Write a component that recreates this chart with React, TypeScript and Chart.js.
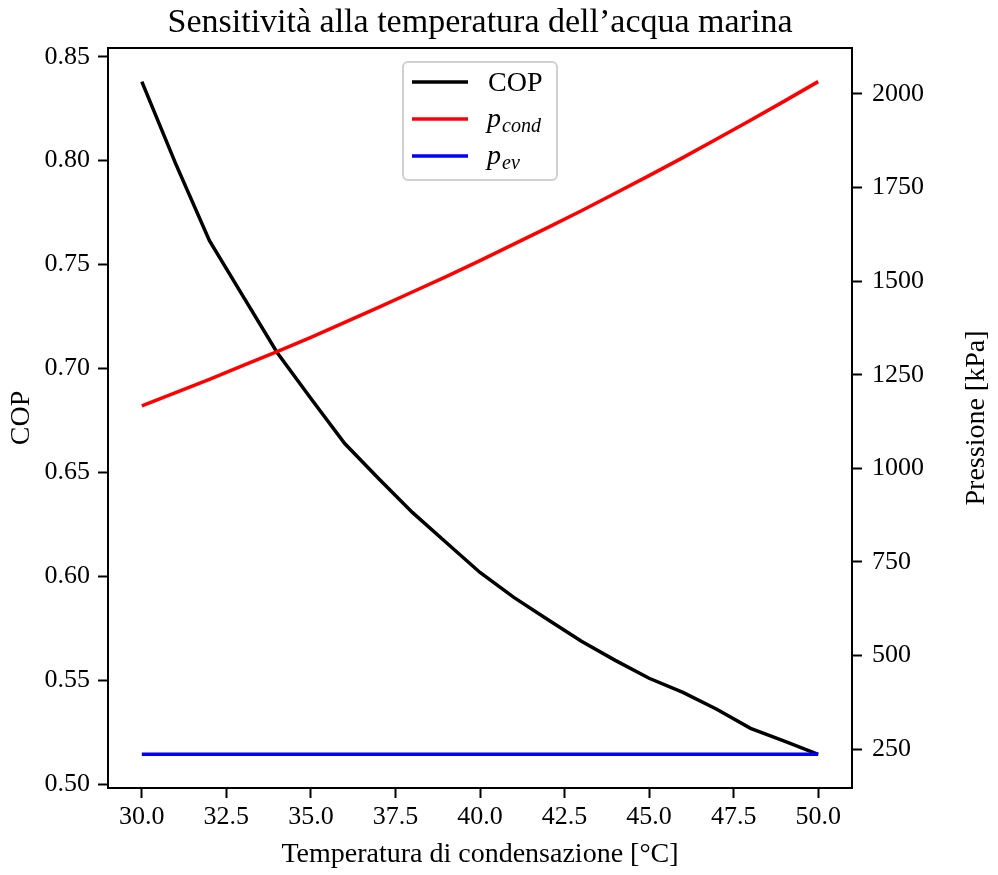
import React, { useEffect, useRef } from "react";
import { Chart, registerables } from "chart.js";

Chart.register(...registerables);

// ---- data ----
const temperatures = [30, 31, 32, 33, 34, 35, 36, 37, 38, 39, 40, 41, 42, 43, 44, 45, 46, 47, 48, 49, 50];
const copValues = [0.838, 0.7986, 0.7615, 0.7346, 0.7077, 0.6856, 0.6639, 0.6471, 0.6308, 0.6163, 0.6019, 0.5899, 0.5793, 0.5688, 0.5596, 0.551, 0.5442, 0.5361, 0.5269, 0.5207, 0.5144];
const pCondValues = [1167, 1202, 1238, 1275, 1312, 1350, 1390, 1430, 1471, 1512, 1555, 1599, 1643, 1688, 1735, 1782, 1830, 1880, 1930, 1981, 2033];
const pEvValues = [236, 236, 236, 236, 236, 236, 236, 236, 236, 236, 236, 236, 236, 236, 236, 236, 236, 236, 236, 236, 236];

const xTicks = [30, 32.5, 35, 37.5, 40, 42.5, 45, 47.5, 50];
const copTicks = [0.5, 0.55, 0.6, 0.65, 0.7, 0.75, 0.8, 0.85];
const pressureTicks = [250, 500, 750, 1000, 1250, 1500, 1750, 2000];

const legendMain = ["COP", "p", "p"];
const legendSub = ["", "cond", "ev"];
const seriesColors = ["#000000", "#ff0000", "#0000ff"];

const titleText = "Sensitività alla temperatura dell’acqua marina";
const xLabel = "Temperatura di condensazione [°C]";
const yLeftLabel = "COP";
const yRightLabel = "Pressione [kPa]";

const FONT = '"Liberation Serif", "DejaVu Serif", serif';

const overlayPlugin = {
  id: "overlay",
  afterDraw(chart: any) {
    const { ctx, chartArea } = chart;
    const { left, right, top, bottom } = chartArea;
    const cx = (left + right) / 2;
    const cy = (top + bottom) / 2;
    ctx.save();
    // frame
    ctx.strokeStyle = "#000";
    ctx.lineWidth = 2;
    ctx.strokeRect(left, top, right - left, bottom - top);

    ctx.fillStyle = "#000";
    // title
    ctx.font = `34px ${FONT}`;
    ctx.textAlign = "center";
    ctx.textBaseline = "alphabetic";
    ctx.fillText(titleText, cx, top - 16);
    // x label
    ctx.font = `28px ${FONT}`;
    ctx.fillText(xLabel, cx, bottom + 74);
    // left y label
    ctx.save();
    ctx.translate(22, cy);
    ctx.rotate(-Math.PI / 2);
    ctx.textBaseline = "middle";
    ctx.fillText(yLeftLabel, 0, 0);
    ctx.restore();
    // right y label
    ctx.save();
    ctx.translate(977, cy);
    ctx.rotate(-Math.PI / 2);
    ctx.textBaseline = "middle";
    ctx.fillText(yRightLabel, 0, 0);
    ctx.restore();

    // legend
    const w = 154;
    const h = 118;
    const bx = cx - w / 2;
    const by = top + 14;
    ctx.beginPath();
    ctx.roundRect(bx, by, w, h, 5);
    ctx.fillStyle = "rgba(255,255,255,0.8)";
    ctx.fill();
    ctx.strokeStyle = "#d0d0d0";
    ctx.lineWidth = 2;
    ctx.stroke();
    for (let i = 0; i < legendMain.length; i++) {
      const ly = by + 20 + i * 37;
      ctx.beginPath();
      ctx.moveTo(bx + 9, ly);
      ctx.lineTo(bx + 65, ly);
      ctx.strokeStyle = seriesColors[i];
      ctx.lineWidth = 3.5;
      ctx.stroke();
      ctx.fillStyle = "#000";
      ctx.textAlign = "left";
      ctx.textBaseline = "alphabetic";
      if (legendSub[i]) {
        ctx.font = `italic 28px ${FONT}`;
        ctx.fillText(legendMain[i], bx + 84, ly + 8);
        const pw = ctx.measureText(legendMain[i]).width;
        ctx.font = `italic 20px ${FONT}`;
        ctx.fillText(legendSub[i], bx + 84 + pw + 1, ly + 13);
      } else {
        ctx.font = `28px ${FONT}`;
        ctx.fillText(legendMain[i], bx + 85, ly + 9);
      }
    }
    ctx.restore();
  },
};

export default function App() {
  const canvasRef = useRef<HTMLCanvasElement | null>(null);

  useEffect(() => {
    document.body.style.margin = "0";
    const canvas = canvasRef.current;
    if (!canvas) return;
    const tickFont = { family: FONT, size: 26 };
    const gridOpts = {
      drawOnChartArea: false,
      drawTicks: true,
      tickLength: 10,
      tickWidth: 2,
      tickColor: "#000",
    };
    const chart = new Chart(canvas, {
      type: "line",
      data: {
        datasets: [
          {
            label: "COP",
            data: temperatures.map((t, i) => ({ x: t, y: copValues[i] })),
            borderColor: seriesColors[0],
            backgroundColor: seriesColors[0],
            borderWidth: 3.5,
            pointRadius: 0,
            tension: 0,
            yAxisID: "y",
            order: 3,
          },
          {
            label: "p_cond",
            data: temperatures.map((t, i) => ({ x: t, y: pCondValues[i] })),
            borderColor: seriesColors[1],
            backgroundColor: seriesColors[1],
            borderWidth: 3.5,
            pointRadius: 0,
            tension: 0,
            yAxisID: "y1",
            order: 2,
          },
          {
            label: "p_ev",
            data: temperatures.map((t, i) => ({ x: t, y: pEvValues[i] })),
            borderColor: seriesColors[2],
            backgroundColor: seriesColors[2],
            borderWidth: 3.5,
            pointRadius: 0,
            tension: 0,
            yAxisID: "y1",
            order: 1,
          },
        ],
      },
      options: {
        responsive: false,
        animation: false,
        layout: { padding: { top: 48, left: 0, right: 0, bottom: 0 } },
        plugins: {
          legend: { display: false },
          title: { display: false },
          tooltip: { enabled: false },
        },
        scales: {
          x: {
            type: "linear",
            min: 29,
            max: 51,
            afterBuildTicks: (s: any) => {
              s.ticks = xTicks.map((v) => ({ value: v }));
            },
            afterFit: (s: any) => {
              s.height = 87;
            },
            ticks: {
              font: tickFont,
              color: "#000",
              padding: 4,
              maxRotation: 0,
              autoSkip: false,
              callback: (v: any) => Number(v).toFixed(1),
            },
            grid: gridOpts,
            border: { display: false },
          },
          y: {
            type: "linear",
            position: "left",
            min: 0.4982,
            max: 0.8542,
            afterBuildTicks: (s: any) => {
              s.ticks = copTicks.map((v) => ({ value: v }));
            },
            afterFit: (s: any) => {
              s.width = 108;
            },
            ticks: {
              font: tickFont,
              color: "#000",
              padding: 8,
              autoSkip: false,
              callback: (v: any) => Number(v).toFixed(2),
            },
            grid: gridOpts,
            border: { display: false },
          },
          y1: {
            type: "linear",
            position: "right",
            min: 146.15,
            max: 2122.85,
            afterBuildTicks: (s: any) => {
              s.ticks = pressureTicks.map((v) => ({ value: v }));
            },
            afterFit: (s: any) => {
              s.width = 146;
            },
            ticks: {
              font: tickFont,
              color: "#000",
              padding: 10,
              autoSkip: false,
              callback: (v: any) => String(Math.round(Number(v))),
            },
            grid: gridOpts,
            border: { display: false },
          },
        },
      },
      plugins: [overlayPlugin],
    });
    return () => chart.destroy();
  }, []);

  return (
    <div style={{ width: 998, height: 875 }}>
      <canvas ref={canvasRef} width={998} height={875} style={{ display: "block" }} />
    </div>
  );
}
